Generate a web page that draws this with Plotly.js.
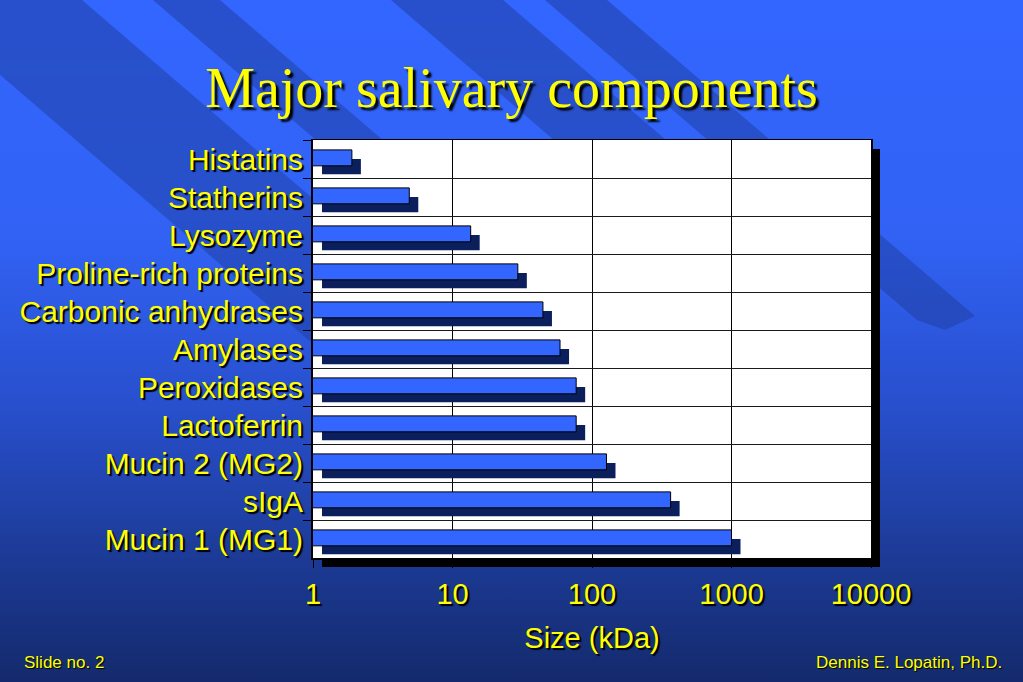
<!DOCTYPE html>
<html>
<head>
<meta charset="utf-8">
<script src="https://cdn.plot.ly/plotly-3.0.1.min.js"></script>
<style>
  html, body { margin:0; padding:0; width:1023px; height:682px; overflow:hidden; background:#142a6c; }
  #bg { position:absolute; left:0; top:0; }
  #chart { position:absolute; left:0; top:0; width:1023px; height:682px; }
</style>
</head>
<body>
<svg id="bg" width="1023" height="682" xmlns="http://www.w3.org/2000/svg">
  <defs>
    <linearGradient id="sky" x1="0" y1="0" x2="0" y2="1">
      <stop offset="0" stop-color="#3366ff"/>
      <stop offset="0.35" stop-color="#3162f4"/>
      <stop offset="0.6" stop-color="#284fcc"/>
      <stop offset="0.8" stop-color="#1d3c9a"/>
      <stop offset="1" stop-color="#142a6c"/>
    </linearGradient>
    <linearGradient id="fade" x1="0" y1="0" x2="0" y2="682" gradientUnits="userSpaceOnUse">
      <stop offset="0" stop-color="#fff" stop-opacity="1"/>
      <stop offset="0.45" stop-color="#fff" stop-opacity="0.85"/>
      <stop offset="0.8" stop-color="#fff" stop-opacity="0"/>
    </linearGradient>
    <mask id="m"><rect width="1023" height="682" fill="url(#fade)"/></mask>
  </defs>
  <rect width="1023" height="682" fill="url(#sky)"/>
  <g mask="url(#m)" fill="#14286e" fill-opacity="0.35">
    <polygon points="-87,0 82,0 875,682 706,682"/>
    <polygon points="153,0 220,0 1013,682 946,682"/>
    <polygon points="391,0 503,0 852,300 740,300"/>
    <polygon points="545,0 607,0 975,316 945,330 917,320"/>
  </g>
</svg>
<div id="chart"></div>
<script>
// ---- data ----
const categories = ["Histatins", "Statherins", "Lysozyme", "Proline-rich proteins",
  "Carbonic anhydrases", "Amylases", "Peroxidases", "Lactoferrin",
  "Mucin 2 (MG2)", "sIgA", "Mucin 1 (MG1)"];
const sizesKDa = [1.9, 4.9, 13.5, 29.4, 44.5, 59, 77, 77, 127, 366, 1000];
const xTickVals = [1, 10, 100, 1000, 10000];
const xTickText = ["1", "10", "100", "1000", "10000"];

// ---- style ----
const YELLOW = "#ffff00";
const SANS = "Liberation Sans, Arial, Helvetica, sans-serif";
const SERIF = "Liberation Serif, Times New Roman, serif";
const TXT_SHADOW = "2px 2px 1px #000000";
const SHADOW_FACTOR = Math.pow(10, 9 / 139.4); // 3-D shadow offset of ~9px on the log axis

const shadowBars = {
  type: "bar", orientation: "h",
  y: categories,
  base: categories.map(() => SHADOW_FACTOR),
  x: sizesKDa.map(v => v * SHADOW_FACTOR - SHADOW_FACTOR),
  offset: 0.0, width: 0.40,
  marker: { color: "#0b1f5c", line: { width: 0 } },
  hoverinfo: "skip"
};
const frontBars = {
  type: "bar", orientation: "h",
  y: categories, x: sizesKDa,
  offset: -0.24, width: 0.42,
  marker: { color: "#3366ff", line: { color: "#000000", width: 1 } },
  hovertemplate: "%{y}: %{x} kDa<extra></extra>"
};

const PLOT_L = 313, PLOT_R = 871, PLOT_T = 140, PLOT_B = 558;
const PW = PLOT_R - PLOT_L, PH = PLOT_B - PLOT_T;
const px2x = px => (px - PLOT_L) / PW;
const py2y = py => (PLOT_B - py) / PH;

const layout = {
  width: 1023, height: 682,
  margin: { l: PLOT_L, r: 1023 - PLOT_R, t: PLOT_T, b: 682 - PLOT_B, pad: 0 },
  paper_bgcolor: "rgba(0,0,0,0)",
  plot_bgcolor: "rgba(0,0,0,0)",
  barmode: "overlay",
  showlegend: false,
  title: {
    text: "Major salivary components",
    font: { family: SERIF, size: 56, color: YELLOW, shadow: "3px 3px 2px #000000" },
    x: 0.5, xanchor: "center", xref: "container",
    y: 1 - 87 / 682, yanchor: "middle", yref: "container"
  },
  xaxis: {
    type: "log", range: [0, 4],
    tickmode: "array", tickvals: xTickVals, ticktext: xTickText,
    showgrid: true, gridcolor: "#000000", gridwidth: 1,
    showline: true, linecolor: "#000000", linewidth: 1.5, mirror: true,
    ticks: "outside", ticklen: 8, tickcolor: "#000000",
    tickfont: { family: SANS, size: 29, color: YELLOW, shadow: TXT_SHADOW },
    ticklabelstandoff: 2,
    zeroline: false, fixedrange: true, automargin: false,
    title: { text: "Size (kDa)", font: { family: SANS, size: 29, color: YELLOW, shadow: TXT_SHADOW }, standoff: 18 }
  },
  yaxis: {
    type: "category", autorange: "reversed",
    tickson: "boundaries",
    showgrid: true, gridcolor: "#1a1a1a", gridwidth: 1,
    showline: true, linecolor: "#000000", linewidth: 2, mirror: true,
    ticks: "outside", ticklen: 8, tickcolor: "#000000",
    tickfont: { family: SANS, size: 30, color: YELLOW, shadow: TXT_SHADOW },
    ticklabelstandoff: 2,
    zeroline: false, fixedrange: true, automargin: false
  },
  shapes: [
    { type: "rect", xref: "paper", yref: "paper", layer: "below",
      x0: px2x(PLOT_L + 9), x1: px2x(PLOT_R + 9), y0: py2y(PLOT_B + 9), y1: py2y(PLOT_T + 9),
      fillcolor: "#000000", line: { width: 0 } },
    { type: "rect", xref: "paper", yref: "paper", layer: "below",
      x0: 0, x1: 1, y0: 0, y1: 1,
      fillcolor: "#ffffff", line: { width: 0 } }
  ],
  annotations: [
    { text: "Slide no. 2", xref: "paper", yref: "paper",
      x: px2x(22), y: py2y(662), xanchor: "left", yanchor: "middle", showarrow: false,
      font: { family: SANS, size: 17, color: YELLOW, shadow: "1px 1px 1px #000000" } },
    { text: "Dennis E. Lopatin, Ph.D.", xref: "paper", yref: "paper",
      x: px2x(1004), y: py2y(662), xanchor: "right", yanchor: "middle", showarrow: false,
      font: { family: SANS, size: 17, color: YELLOW, shadow: "1px 1px 1px #000000" } }
  ]
};

Plotly.newPlot("chart", [shadowBars, frontBars], layout, { displayModeBar: false, staticPlot: true });
</script>
</body>
</html>
